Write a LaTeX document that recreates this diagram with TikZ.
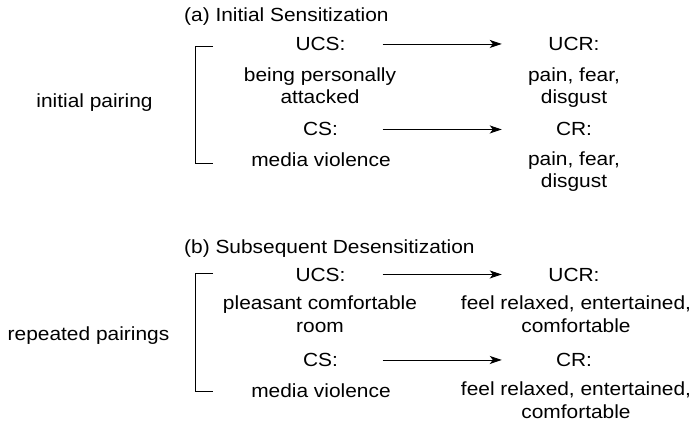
\documentclass[tikz,border=0pt]{standalone}
\usepackage{fontspec}
\setmainfont{Liberation Sans}[FakeStretch=1.1]
\usetikzlibrary{arrows.meta}

\begin{document}
\begin{tikzpicture}[
                x=1pt, y=-1pt,
                every node/.style={inner sep=0pt, align=center, font=\fontsize{19}{22.5}\selectfont},
                stim/.style={anchor=base, minimum width=124pt},
                resp/.style={anchor=base, minimum width=144pt},
                txt/.style={anchor=base},
                pair/.style={-{Stealth[length=12pt, width=8pt, inset=3pt]}, line width=0.9pt},
                brace/.style={line width=0.9pt},
              ]
              \useasboundingbox (0,0) rectangle (695,430);
              % (a) sensitization
              \node[anchor=base west] (titleA) at (184,22) {(a) Initial Sensitization};
              \node[txt] (sideA) at (94.5,108) {initial pairing};
              \node[stim] (ucsA) at (320.5,50.5) {UCS:};
              \node[resp] (ucrA) at (574,50.5) {UCR:};
              \node[txt] (ucsTextA) at (320,104) {being personally\\attacked};
              \node[txt] (ucrTextA) at (574,104) {pain, fear,\\disgust};
              \node[stim] (csA) at (320.5,136) {CS:};
              \node[resp] (crA) at (574,136) {CR:};
              \node[txt] (csTextA) at (321,167) {media violence};
              \node[txt] (crTextA) at (574,188) {pain, fear,\\disgust};
              \draw[pair] (ucsA.east) -- (ucrA.west);
              \draw[pair] (csA.east) -- (crA.west);
              \draw[brace] (213,46) -- (195,46) -- (195,163) -- (213,163);
              % (b) desensitization
              \node[anchor=base west] (titleB) at (184,253) {(b) Subsequent Desensitization};
              \node[txt] (sideB) at (88.5,340) {repeated pairings};
              \node[stim] (ucsB) at (320.5,281) {UCS:};
              \node[resp] (ucrB) at (574,281) {UCR:};
              \node[txt] (ucsTextB) at (320,332) {pleasant comfortable\\room};
              \node[txt] (ucrTextB) at (576,332) {feel relaxed, entertained,\\comfortable};
              \node[stim] (csB) at (320.5,366.5) {CS:};
              \node[resp] (crB) at (574,366.5) {CR:};
              \node[txt] (csTextB) at (321,397) {media violence};
              \node[txt] (crTextB) at (576,418) {feel relaxed, entertained,\\comfortable};
              \draw[pair] (ucsB.east) -- (ucrB.west);
              \draw[pair] (csB.east) -- (crB.west);
              \draw[brace] (213,273) -- (195,273) -- (195,391) -- (213,391);
              \end{tikzpicture}
\end{document}
